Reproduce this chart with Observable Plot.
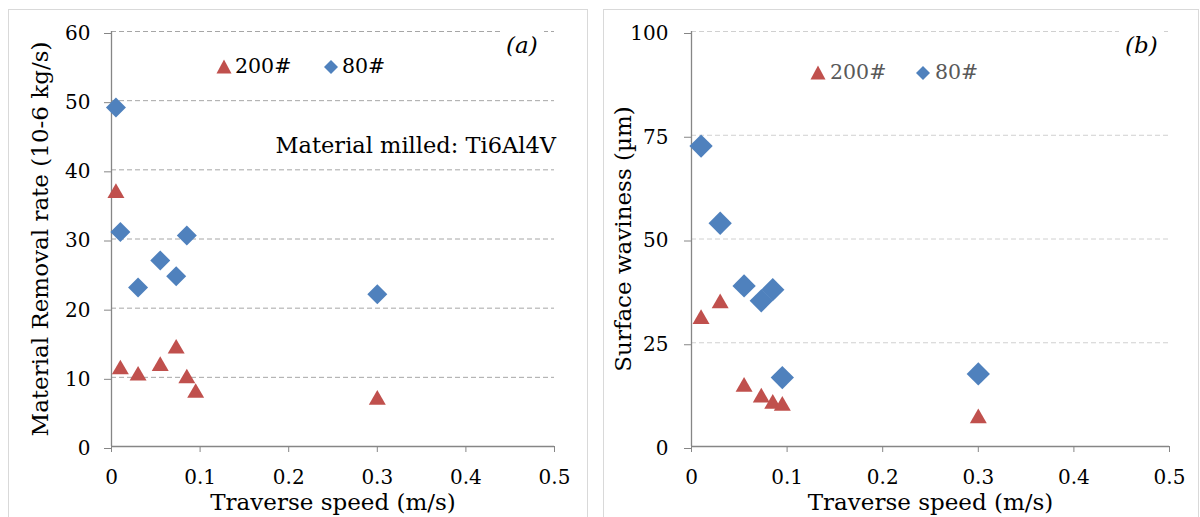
<!DOCTYPE html>
<html><head><meta charset="utf-8">
<script src="https://cdn.jsdelivr.net/npm/d3@7"></script>
<script src="https://cdn.jsdelivr.net/npm/@observablehq/plot@0.6"></script>
<style>
body{margin:0;background:#fff;}
#wrap{position:relative;width:1200px;height:517px;overflow:hidden;background:#fff;font-family:"DejaVu Serif",serif;}
.frame{position:absolute;border:1.5px solid #d9d9d9;box-sizing:border-box;}
.panel{position:absolute;top:0;}
.panel svg{background:transparent!important;}
.txt{position:absolute;white-space:nowrap;line-height:1;}
.sym{position:absolute;}
</style></head><body><div id="wrap"></div>
<script>
// ---- data ----
const seriesNames = ["200#", "80#"];
const colors = {"200#": "#C0504D", "80#": "#4F81BD"};

// Panel (a): Material removal rate (10-6 kg/s)
const speedA200 = [0.005, 0.01, 0.03, 0.055, 0.073, 0.085, 0.095, 0.3];
const mrrA200   = [37, 11.5, 10.6, 12, 14.5, 10.2, 8.1, 7.1];
const speedA80  = [0.005, 0.01, 0.03, 0.055, 0.073, 0.085, 0.3];
const mrrA80    = [49, 31, 23, 26.9, 24.6, 30.5, 22];

// Panel (b): Surface waviness (µm)
const speedB200 = [0.01, 0.03, 0.055, 0.073, 0.085, 0.095, 0.3];
const wavB200   = [31.3, 35.1, 15, 12.4, 10.9, 10.4, 7.4];
const speedB80  = [0.01, 0.03, 0.055, 0.073, 0.085, 0.095, 0.3];
const wavB80    = [72.4, 53.8, 38.7, 35.1, 37.8, 16.6, 17.5];

const xTicks = [0, 0.1, 0.2, 0.3, 0.4, 0.5];
const yTicksA = [0, 10, 20, 30, 40, 50, 60];
const yTicksB = [0, 25, 50, 75, 100];
const xTitle = "Traverse speed (m/s)";
const yTitleA = "Material Removal rate (10-6 kg/s)";
const yTitleB = "Surface waviness (µm)";

const toRows = (xs, ys) => xs.map((x, i) => ({x, y: ys[i]}));

function panel({rows200, rows80, yDomain, yTicks, yTitle, mL, mR, gridColor, dRadius, yLabelOffset, tickPad}) {
  const axisGray = "#868686";
  return Plot.plot({
    width: 600, height: 517,
    marginLeft: mL, marginRight: mR, marginTop: 31, marginBottom: 71,
    style: {fontFamily: "'DejaVu Serif', serif", background: "transparent", color: "#000", overflow: "visible"},
    x: {domain: [0, 0.5]},
    y: {domain: yDomain},
    marks: [
      Plot.gridY(yTicks.filter(d => d > 0), {stroke: gridColor, strokeOpacity: 1, strokeDasharray: "5,3", strokeWidth: 1}),
      Plot.ruleX([0], {stroke: axisGray, strokeWidth: 1.3}),
      Plot.ruleY([0], {stroke: axisGray, strokeWidth: 1.3}),
      Plot.axisY(yTicks, {tickSize: 7, tickPadding: tickPad, stroke: axisGray, fontSize: 20, dy: 2, tickFormat: d => String(d),
        label: yTitle, labelAnchor: "center", labelOffset: yLabelOffset, labelArrow: "none"}),
      Plot.axisX(xTicks, {tickSize: 6, tickPadding: 17, stroke: axisGray, fontSize: 20, tickFormat: d => String(d),
        label: null}),
      Plot.axisX({ticks: [], tickSize: 0, label: xTitle, labelAnchor: "center", labelOffset: 63, labelArrow: "none", fontSize: 23}),
      Plot.dot(rows200, {x: "x", y: "y", symbol: "triangle", r: 6.3, fill: colors["200#"], stroke: "none", dy: 2.5}),
      Plot.dot(rows80, {x: "x", y: "y", symbol: "diamond2", r: dRadius, fill: colors["80#"], stroke: "none"})
    ]
  });
}

const wrap = document.getElementById("wrap");
function addFrame(l, t, w, h) {
  const f = document.createElement("div"); f.className = "frame";
  Object.assign(f.style, {left: l + "px", top: t + "px", width: w + "px", height: h + "px"});
  wrap.appendChild(f);
}
addFrame(8, 9, 580, 530);
addFrame(603, 9, 596, 530);

function addPanel(svg, left) {
  const d = document.createElement("div"); d.className = "panel"; d.style.left = left + "px";
  d.appendChild(svg); wrap.appendChild(d);
  svg.querySelectorAll("[aria-label='y-axis label'] text, [aria-label='x-axis label'] text").forEach(t => t.setAttribute("font-size", 23));
}

addPanel(panel({rows200: toRows(speedA200, mrrA200), rows80: toRows(speedA80, mrrA80), yDomain: [0, 60], yTicks: yTicksA,
  yTitle: yTitleA, mL: 111, mR: 46, gridColor: "#a6a6a6", dRadius: 9, yLabelOffset: 80, tickPad: 14}), 0);
addPanel(panel({rows200: toRows(speedB200, wavB200), rows80: toRows(speedB80, wavB80), yDomain: [0, 100], yTicks: yTicksB,
  yTitle: yTitleB, mL: 91, mR: 31, gridColor: "#d0d0d0", dRadius: 10.5, yLabelOffset: 77, tickPad: 16}), 600);

function addText(str, l, t, size, opts = {}) {
  const s = document.createElement("div"); s.className = "txt"; s.textContent = str;
  Object.assign(s.style, {left: l + "px", top: t + "px", fontSize: size + "px"}, opts);
  wrap.appendChild(s); return s;
}
function addSym(kind, cx, cy, color) {
  const ns = "http://www.w3.org/2000/svg";
  const svg = document.createElementNS(ns, "svg");
  svg.setAttribute("width", 18); svg.setAttribute("height", 18); svg.setAttribute("class", "sym");
  svg.style.left = (cx - 9) + "px"; svg.style.top = (cy - 9) + "px";
  const p = document.createElementNS(ns, "path");
  p.setAttribute("d", kind === "triangle" ? "M9,1.5 L16.5,15.5 L1.5,15.5 Z" : "M9,2 L16,9 L9,16 L2,9 Z");
  p.setAttribute("fill", color);
  svg.appendChild(p); wrap.appendChild(svg);
}

// legends
addSym("triangle", 224, 67, colors["200#"]);
addText(seriesNames[0], 235, 56, 20.5, {color: "#000"});
addSym("diamond", 331, 67, colors["80#"]);
addText(seriesNames[1], 342, 56, 20.5, {color: "#000"});
addSym("triangle", 818, 73, colors["200#"]);
addText(seriesNames[0], 830, 62, 20.5, {color: "#595959"});
addSym("diamond", 923, 73, colors["80#"]);
addText(seriesNames[1], 935, 62, 20.5, {color: "#595959"});

// annotations
addText("(a)", 500, 29, 23, {fontStyle: "italic", background: "#fff", padding: "5px 6px"});
addText("(b)", 1119, 29, 23, {fontStyle: "italic", background: "#fff", padding: "5px 6px"});
const ann = addText("Material milled: Ti6Al4V", 0, 134, 22.5, {color: "#000"});
ann.style.left = (556 - ann.getBoundingClientRect().width) + "px";
</script></body></html>
